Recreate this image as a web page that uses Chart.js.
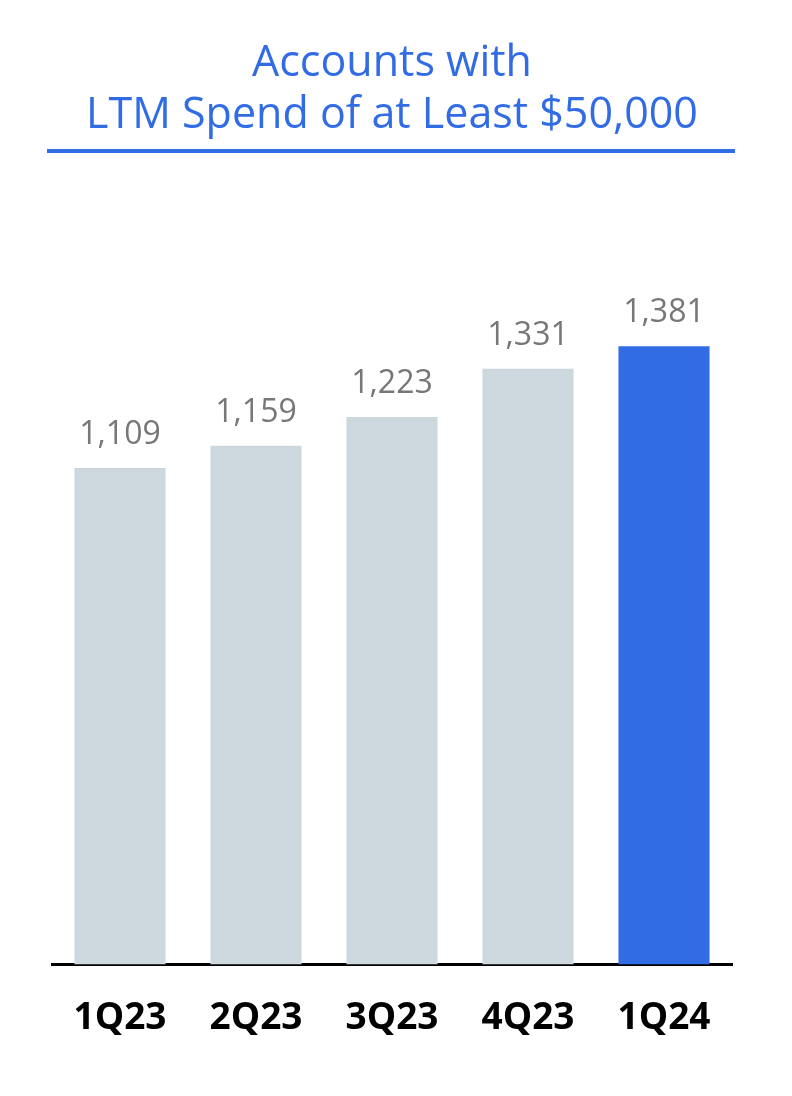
<!DOCTYPE html>
<html>
<head>
<meta charset="utf-8">
<script src="https://cdn.jsdelivr.net/npm/chart.js@4"></script>
<style>
  body { margin: 0; background: #fff; }
  #chart { display: block; }
</style>
</head>
<body>
<canvas id="chart" width="792" height="1096"></canvas>
<script>
// chart data
var quarters = ['1Q23', '2Q23', '3Q23', '4Q23', '1Q24'];
var accounts = [1109, 1159, 1223, 1331, 1381];
var barColors = ['#cdd7de', '#cdd7de', '#cdd7de', '#cdd7de', '#326ce5'];
var titleLines = ['Accounts with', 'LTM Spend of at Least $50,000'];

var BLUE = '#326ce5';

// thick rule under the title
var underline = {
    id: 'underline',
    afterDraw: function (chart) {
        var ctx = chart.ctx;
        ctx.save();
        ctx.strokeStyle = BLUE;
        ctx.lineWidth = 4;
        ctx.beginPath();
        ctx.moveTo(47, 151);
        ctx.lineTo(735, 151);
        ctx.stroke();
        ctx.restore();
    }
};

// value labels above bars
var valueLabels = {
    id: 'valueLabels',
    afterDatasetsDraw: function (chart) {
        var ctx = chart.ctx;
        var meta = chart.getDatasetMeta(0);
        ctx.save();
        ctx.fillStyle = '#777777';
        ctx.font = '32px "Open Sans"';
        ctx.textAlign = 'center';
        ctx.textBaseline = 'alphabetic';
        meta.data.forEach(function (bar, i) {
            ctx.fillText(accounts[i].toLocaleString('en-US'), bar.x, bar.y - 24);
        });
        ctx.restore();
    }
};

var ctx = document.getElementById('chart');
var chart = new Chart(ctx, {
    type: 'bar',
    data: {
        labels: quarters,
        datasets: [{
            data: accounts,
            backgroundColor: barColors,
            borderWidth: 0,
            categoryPercentage: 1,
            barPercentage: 0.67
        }]
    },
    options: {
        responsive: false,
        animation: false,
        layout: {
            padding: { left: 52, right: 60, top: 0, bottom: 23 }
        },
        plugins: {
            legend: { display: false },
            tooltip: { enabled: false },
            title: {
                display: true,
                text: titleLines,
                color: BLUE,
                font: { family: 'Open Sans', size: 43, weight: 'normal', lineHeight: 1.21 },
                padding: { top: 38, bottom: 151 }
            }
        },
        scales: {
            x: {
                grid: { display: false, drawTicks: false },
                border: { display: true, color: '#000', width: 3 },
                ticks: {
                    color: '#000',
                    padding: 32,
                    font: { family: 'Open Sans', size: 37, weight: 'bold' }
                }
            },
            y: {
                display: false,
                min: 0,
                max: 1500
            }
        }
    },
    plugins: [underline, valueLabels]
});
</script>
</body>
</html>
